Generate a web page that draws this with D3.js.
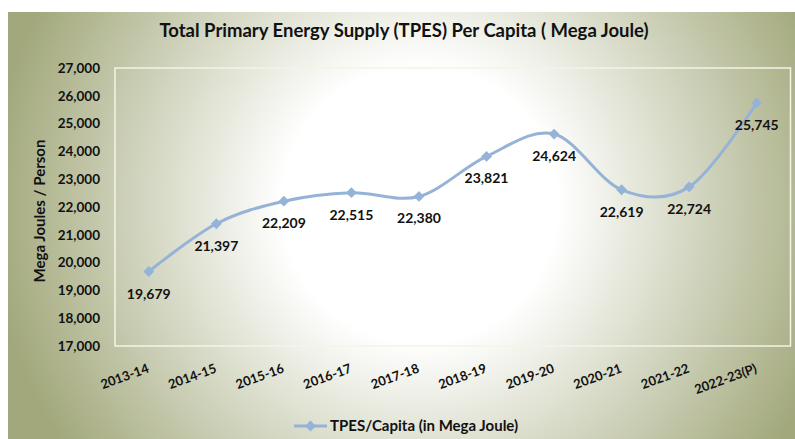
<!DOCTYPE html>
<html>
<head>
<meta charset="utf-8">
<script src="https://cdn.jsdelivr.net/npm/d3@7"></script>
<style>
  body { margin: 0; background: #fff; }
  text { font-family: Lato, "Open Sans", sans-serif; font-weight: bold; fill: #111; }
</style>
</head>
<body>
<div id="chart"></div>
<script>
var years = ['2013-14', '2014-15', '2015-16', '2016-17', '2017-18', '2018-19', '2019-20', '2020-21', '2021-22', '2022-23(P)']
var tpes = [19679, 21397, 22209, 22515, 22380, 23821, 24624, 22619, 22724, 25745]
var yTicks = [17000, 18000, 19000, 20000, 21000, 22000, 23000, 24000, 25000, 26000, 27000]
var seriesName = 'TPES/Capita (in Mega Joule)'

var W = 795, H = 439
var margin = { top: 68, right: 4.5, bottom: 93, left: 115 }
var lineColor = '#95b3d7'

var svg = d3.select('#chart').append('svg')
    .attr('width', W)
    .attr('height', H)

// background radial gradient (white centre, olive edges)
var grad = svg.append('defs').append('radialGradient')
    .attr('id', 'bg')
    .attr('gradientUnits', 'userSpaceOnUse')
    .attr('cx', 420).attr('cy', 205).attr('r', 430)
grad.append('stop').attr('offset', 0).attr('stop-color', '#ffffff')
grad.append('stop').attr('offset', 0.32).attr('stop-color', '#ffffff')
grad.append('stop').attr('offset', 1).attr('stop-color', '#a2a87b')

svg.append('rect')
    .attr('x', 8).attr('y', 12)
    .attr('width', W - 8).attr('height', H - 12)
    .attr('fill', 'url(#bg)')

var x = d3.scaleBand()
    .domain(years)
    .range([margin.left, W - margin.right])
var y = d3.scaleLinear()
    .domain([17000, 27000])
    .range([H - margin.bottom, margin.top])

// plot border
svg.append('rect')
    .attr('x', x.range()[0]).attr('y', y(27000))
    .attr('width', x.range()[1] - x.range()[0])
    .attr('height', y(17000) - y(27000))
    .attr('fill', 'none')
    .attr('stroke', '#f4f4e6')
    .attr('stroke-width', 1.5)

// title
svg.append('text')
    .attr('x', 404).attr('y', 37)
    .attr('text-anchor', 'middle')
    .attr('font-size', '18.5px')
    .text('Total Primary Energy Supply (TPES) Per Capita ( Mega Joule)')

// y axis
var yAxis = svg.append('g')
    .attr('transform', 'translate(' + margin.left + ',0)')
    .call(d3.axisLeft(y).tickValues(yTicks).tickSize(0).tickPadding(15).tickFormat(d3.format(',')))
yAxis.select('.domain').remove()
yAxis.selectAll('text')
    .attr('font-size', '13.5px')
    .attr('font-family', 'Lato, sans-serif')
    .attr('fill', '#111')

svg.append('text')
    .attr('transform', 'translate(45,' + 211 + ') rotate(-90)')
    .attr('text-anchor', 'middle')
    .attr('font-size', '15px')
    .text('Mega Joules / Person')

// x axis labels
var xAxis = svg.append('g')
    .attr('transform', 'translate(0,' + (H - margin.bottom) + ')')
    .call(d3.axisBottom(x).tickSize(0).tickPadding(0))
xAxis.select('.domain').remove()
xAxis.selectAll('text')
    .attr('font-size', '13px')
    .attr('font-family', 'Lato, sans-serif')
    .attr('fill', '#111')
    .attr('text-anchor', 'end')
    .attr('dy', 0)
    .attr('y', 0)
    .attr('transform', 'translate(1,26) rotate(-20)')

// line
var line = d3.line()
    .x(function (d, i) { return x(years[i]) + x.bandwidth() / 2 })
    .y(function (d) { return y(d) })
    .curve(d3.curveCardinal.tension(0))

svg.append('path')
    .datum(tpes)
    .attr('fill', 'none')
    .attr('stroke', lineColor)
    .attr('stroke-width', 3)
    .attr('d', line)

var diamond = d3.symbol().type(d3.symbolDiamond2).size(75)

svg.selectAll('.marker')
    .data(tpes)
    .enter()
    .append('path')
    .attr('class', 'marker')
    .attr('d', diamond)
    .attr('fill', lineColor)
    .attr('transform', function (d, i) {
        return 'translate(' + (x(years[i]) + x.bandwidth() / 2) + ',' + y(d) + ')'
    })

svg.selectAll('.label')
    .data(tpes)
    .enter()
    .append('text')
    .attr('class', 'label')
    .attr('x', function (d, i) { return x(years[i]) + x.bandwidth() / 2 })
    .attr('y', function (d) { return y(d) + 27 })
    .attr('text-anchor', 'middle')
    .attr('font-size', '14px')
    .text(function (d) { return d3.format(',')(d) })

// legend
var lg = svg.append('g').attr('transform', 'translate(294,426)')
lg.append('line')
    .attr('x1', 0).attr('x2', 33)
    .attr('stroke', lineColor).attr('stroke-width', 3)
lg.append('path')
    .attr('d', diamond)
    .attr('fill', lineColor)
    .attr('transform', 'translate(16.5,0)')
lg.append('text')
    .attr('x', 36).attr('y', 5)
    .attr('font-size', '15px')
    .text(seriesName)
</script>
</body>
</html>
